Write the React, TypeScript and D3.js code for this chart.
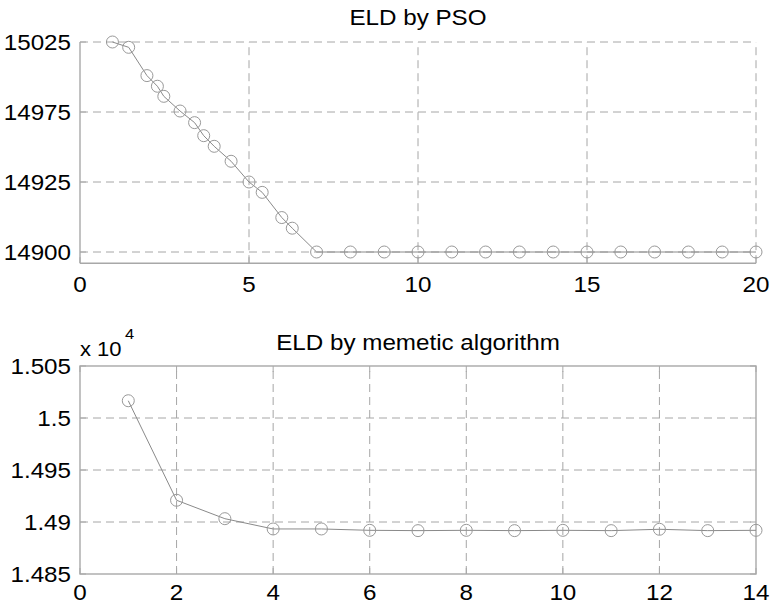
import React from "react";
import * as d3 from "d3";

// ---------- data ----------
const psoTitle = "ELD by PSO";
const psoIter = [0.96, 1.44, 1.98, 2.29, 2.48, 2.96, 3.39, 3.66, 3.97, 4.47, 5.0, 5.39, 5.97, 6.28, 7, 8, 9, 10, 11, 12, 13, 14, 15, 16, 17, 18, 19, 20];
const psoCost = [15025, 15021.2, 15001, 14993.4, 14986.2, 14975.7, 14967.4, 14958.1, 14950.5, 14939.8, 14925, 14921.3, 14912.3, 14908.5, 14900, 14900, 14900, 14900, 14900, 14900, 14900, 14900, 14900, 14900, 14900, 14900, 14900, 14900];
const psoXTicks = [0, 5, 10, 15, 20];
const psoYTicks = [14900, 14925, 14975, 15025];
const psoYMin = 14896;

const memTitle = "ELD by memetic algorithm";
const memIter = [1, 2, 3, 4, 5, 6, 7, 8, 9, 10, 11, 12, 13, 14];
const memCost = [15016.6, 14920.9, 14903.2, 14893.3, 14893.3, 14892, 14891.7, 14892, 14891.7, 14892, 14891.7, 14893, 14891.7, 14892];
const memXTicks = [0, 2, 4, 6, 8, 10, 12, 14];
const memYTicks = [14850, 14900, 14950, 15000, 15050];
const memExponent = 4;

// ---------- style ----------
const FONT = "'Liberation Sans', Arial, Helvetica, sans-serif";
const GRID = "#a6a6a6";
const AXIS = "#a8a8a8";
const LINE = "#8a8a8a";
const MARK = "#999999";
const FS = 22;
const SX = 1.1;

function T({ x, y, anchor = "middle", size = FS, children, sx = SX }: any) {
  return (
    <text
      transform={`translate(${x},${y}) scale(${sx},1)`}
      textAnchor={anchor}
      fontFamily={FONT}
      fontSize={size}
      fill="#000"
    >
      {children}
    </text>
  );
}

export default function App() {
  const W = 772, H = 605;
  const left = 80, right = 756;

  // --- top panel (PSO) ---
  const pTop = 42, pTickBottom = 252;
  const step = (pTickBottom - pTop) / (psoYTicks.length - 1);
  const tickPos = psoYTicks.map((_, i) => pTickBottom - i * step);
  const firstSlope = step / (psoYTicks[1] - psoYTicks[0]);
  const pBottom = pTickBottom + (psoYTicks[0] - psoYMin) * firstSlope;
  const px = d3.scaleLinear().domain([psoXTicks[0], psoXTicks[psoXTicks.length - 1]]).range([left, right]);
  const py = d3.scaleLinear().domain([psoYMin, ...psoYTicks]).range([pBottom, ...tickPos]);
  const psoPts = psoIter.map((v, i) => [px(v), py(psoCost[i])] as [number, number]);
  const psoLine = d3.line()(psoPts) || "";

  // --- bottom panel (memetic) ---
  const mTop = 366, mBottom = 574;
  const mx = d3.scaleLinear().domain([memXTicks[0], memXTicks[memXTicks.length - 1]]).range([left, right]);
  const my = d3.scaleLinear().domain([memYTicks[0], memYTicks[memYTicks.length - 1]]).range([mBottom, mTop]);
  const memPts = memIter.map((v, i) => [mx(v), my(memCost[i])] as [number, number]);
  const memLine = d3.line()(memPts) || "";
  const fmt = d3.format(".4~f");
  const scale = Math.pow(10, memExponent);

  const dash = "8,5";
  const tickLen = 6;

  return (
    <svg width={W} height={H} style={{ position: "absolute", left: 0, top: 0, background: "#fff" }}>
      <rect width={W} height={H} fill="#fff" />
      {/* ===== top panel ===== */}
      <g>
        {psoXTicks.filter((t) => t !== psoXTicks[0]).map((t) => (
          <line key={"pvx" + t} x1={px(t)} x2={px(t)} y1={pBottom} y2={pTop} stroke={GRID} strokeDasharray={dash} />
        ))}
        {psoYTicks.map((t) => (
          <line key={"pgy" + t} x1={left} x2={right} y1={py(t)} y2={py(t)} stroke={GRID} strokeDasharray={dash} />
        ))}
        {psoXTicks.map((t) => (
          <line key={"ptx" + t} x1={px(t)} x2={px(t)} y1={pBottom} y2={pBottom - tickLen} stroke={AXIS} />
        ))}
        {psoYTicks.map((t) => (
          <line key={"pty" + t} x1={left} x2={left + tickLen} y1={py(t)} y2={py(t)} stroke={AXIS} />
        ))}
        <line x1={left} x2={left} y1={pTop} y2={pBottom} stroke={AXIS} strokeWidth={1.4} />
        <line x1={left} x2={right} y1={pBottom} y2={pBottom} stroke={AXIS} strokeWidth={1.4} />
        <path d={psoLine} fill="none" stroke={LINE} strokeWidth={1} />
        {psoPts.map((p, i) => (
          <circle key={"pc" + i} cx={p[0]} cy={p[1]} r={6} fill="none" stroke={MARK} strokeWidth={1} />
        ))}
        {psoYTicks.map((t) => (
          <T key={"pyl" + t} x={71} y={py(t) + 8} anchor="end">{String(t)}</T>
        ))}
        {psoXTicks.map((t) => (
          <T key={"pxl" + t} x={px(t)} y={pBottom + 29}>{String(t)}</T>
        ))}
        <T x={(left + right) / 2} y={25}>{psoTitle}</T>
      </g>

      {/* ===== bottom panel ===== */}
      <g>
        {memXTicks.slice(1, -1).map((t) => (
          <line key={"mvx" + t} x1={mx(t)} x2={mx(t)} y1={mBottom} y2={mTop} stroke={GRID} strokeDasharray={dash} />
        ))}
        {memYTicks.slice(1, -1).map((t) => (
          <line key={"mgy" + t} x1={left} x2={right} y1={my(t)} y2={my(t)} stroke={GRID} strokeDasharray={dash} />
        ))}
        {memXTicks.map((t) => (
          <g key={"mtx" + t}>
            <line x1={mx(t)} x2={mx(t)} y1={mBottom} y2={mBottom - tickLen} stroke={AXIS} />
            <line x1={mx(t)} x2={mx(t)} y1={mTop} y2={mTop + tickLen} stroke={AXIS} />
          </g>
        ))}
        {memYTicks.map((t) => (
          <g key={"mty" + t}>
            <line x1={left} x2={left + tickLen} y1={my(t)} y2={my(t)} stroke={AXIS} />
            <line x1={right} x2={right - tickLen} y1={my(t)} y2={my(t)} stroke={AXIS} />
          </g>
        ))}
        <rect x={left} y={mTop} width={right - left} height={mBottom - mTop} fill="none" stroke={AXIS} strokeWidth={1.4} />
        <path d={memLine} fill="none" stroke={LINE} strokeWidth={1} />
        {memPts.map((p, i) => (
          <circle key={"mc" + i} cx={p[0]} cy={p[1]} r={6} fill="none" stroke={MARK} strokeWidth={1} />
        ))}
        {memYTicks.map((t) => (
          <T key={"myl" + t} x={71} y={my(t) + 8} anchor="end">{fmt(t / scale)}</T>
        ))}
        {memXTicks.map((t) => (
          <T key={"mxl" + t} x={mx(t)} y={mBottom + 26}>{String(t)}</T>
        ))}
        <T x={80} y={356} anchor="start" size={20}>{"x 10"}</T>
        <T x={125} y={339} anchor="start" size={15}>{String(memExponent)}</T>
        <T x={(left + right) / 2} y={350}>{memTitle}</T>
      </g>
    </svg>
  );
}
